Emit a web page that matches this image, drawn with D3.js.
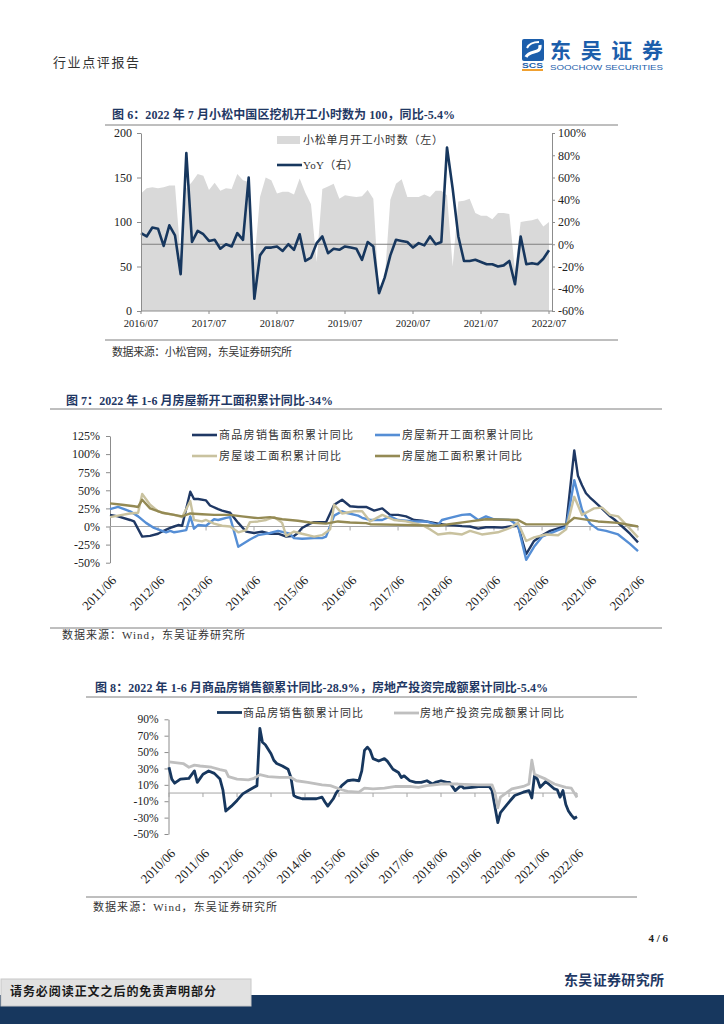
<!DOCTYPE html>
<html>
<head>
<meta charset="utf-8">
<script src="https://cdn.jsdelivr.net/npm/d3@7"></script>
<style>
  body { margin: 0; background: #fff; }
  svg { display: block; }
</style>
</head>
<body>
<svg id="page" width="724" height="1024"></svg>
<script>
// ---- chart 6: Komatsu China excavator hours, 2016/07 - 2022/07 monthly
const months6 = ['2016/07', '2017/07', '2018/07', '2019/07', '2020/07', '2021/07', '2022/07'];
const hours6 = [132, 138, 139, 138, 139, 141, 141, 60, 138, 145, 154, 152, 136, 144, 135, 138, 137, 154,
  147, 145, 55, 128, 150, 147, 132, 134, 134, 131, 149, 133, 120, 55, 137, 140, 143, 126, 130, 129, 128,
  129, 136, 126, 20, 35, 125, 143, 148, 128, 128, 128, 131, 128, 135, 135, 130, 50, 123, 124, 126, 110,
  107, 107, 103, 110, 110, 109, 45, 100, 101, 102, 104, 95, 100];
const yoy6 = [10, 7, 15, 14, -1.5, 17, 8, -27, 82, 2, 12, 9, 3, 4, -4, 0, -2, 10, 4, 60, -49, -10, -3,
  -3, -2, -6, 0, -5, 9, -15, -12, 1, 7, -8, -4, -5, -2, -3, -4, -14, 2, -2, -44, -30, -10, 4, 3, 2, -3,
  1, -1, 7, 0, 2, 87, 50, 7, -15, -15, -14, -16, -18, -18, -20, -19, -15, -36, 7, -18, -17, -18, -13, -5.4];
const yLeftTicks6 = [0, 50, 100, 150, 200];
const yRightTicks6 = [-60, -40, -20, 0, 20, 40, 60, 80, 100];

// ---- chart 7: floor space, cumulative YoY (%)
const years7 = ['2011/06', '2012/06', '2013/06', '2014/06', '2015/06', '2016/06', '2017/06', '2018/06',
  '2019/06', '2020/06', '2021/06', '2022/06'];
const yTicks7 = [-50, -25, 0, 25, 50, 75, 100, 125];
const salesArea = [['2011-06', 16], ['2011-08', 14], ['2011-11', 9], ['2011-12', 7], ['2012-02', -14],
  ['2012-04', -13], ['2012-06', -10], ['2012-07', -7], ['2012-09', -2], ['2012-10', 0], ['2012-11', 2],
  ['2012-12', 1], ['2013-02', 48], ['2013-03', 38], ['2013-04', 38], ['2013-06', 36], ['2013-07', 29],
  ['2013-09', 24], ['2013-10', 22], ['2013-12', 19], ['2014-02', 5], ['2014-04', -7], ['2014-06', -9],
  ['2014-08', -7], ['2014-10', -10], ['2014-12', -10], ['2015-02', -14], ['2015-04', -13], ['2015-05', -9],
  ['2015-06', -2], ['2015-08', 4], ['2015-09', 6], ['2015-11', 6], ['2015-12', 6], ['2016-02', 30],
  ['2016-04', 37], ['2016-06', 28], ['2016-08', 27], ['2016-10', 27], ['2016-12', 22], ['2017-02', 25],
  ['2017-04', 16], ['2017-06', 16], ['2017-08', 14], ['2017-10', 9], ['2017-12', 8], ['2018-02', 6],
  ['2018-04', 4], ['2018-06', 2], ['2018-08', 1.5], ['2018-10', 0.5], ['2018-12', 0], ['2019-02', -3],
  ['2019-04', -1], ['2019-06', -1], ['2019-08', -1.5], ['2019-10', 0], ['2019-12', 1], ['2020-02', -38],
  ['2020-04', -20], ['2020-06', -12], ['2020-08', -6], ['2020-10', -2.5], ['2020-12', 1], ['2021-02', 105],
  ['2021-03', 70], ['2021-04', 57], ['2021-05', 46], ['2021-06', 40], ['2021-07', 35], ['2021-08', 30],
  ['2021-11', 14], ['2021-12', 10], ['2022-02', 0], ['2022-04', -10], ['2022-06', -22]];
const newStart = [['2011-06', 24], ['2011-08', 27], ['2011-11', 21], ['2012-01', 14], ['2012-03', 5],
  ['2012-05', -2], ['2012-06', -4], ['2012-08', -8], ['2012-09', -6], ['2012-10', -8], ['2012-11', -7],
  ['2013-01', -5], ['2013-02', 14], ['2013-03', -3], ['2013-04', 2], ['2013-06', 1], ['2013-08', 10],
  ['2013-09', 9], ['2013-11', 12], ['2013-12', 13], ['2014-02', -28], ['2014-05', -18], ['2014-07', -12],
  ['2014-10', -9], ['2014-12', -6], ['2015-03', -10], ['2015-04', -16], ['2015-06', -17], ['2015-09', -16],
  ['2015-11', -16], ['2015-12', -14], ['2016-02', 15], ['2016-04', 21], ['2016-05', 19], ['2016-08', 15],
  ['2016-09', 12], ['2016-11', 9], ['2017-02', 9], ['2017-04', 14], ['2017-06', 9], ['2017-10', 7],
  ['2018-01', 7], ['2018-04', 2], ['2018-05', 9], ['2018-07', 12], ['2018-10', 16], ['2018-12', 17],
  ['2019-02', 9], ['2019-04', 14], ['2019-06', 10], ['2019-10', 9], ['2019-12', 1], ['2020-02', -46],
  ['2020-04', -28], ['2020-06', -14], ['2020-10', -5], ['2020-12', -1], ['2021-02', 64], ['2021-04', 23],
  ['2021-06', 4], ['2021-08', -4], ['2021-10', -6], ['2022-01', -11], ['2022-04', -24], ['2022-06', -34]];
const completed = [['2011-06', 13], ['2011-08', 15], ['2011-11', 18], ['2012-01', 19], ['2012-02', 45],
  ['2012-04', 30], ['2012-06', 21], ['2012-08', 18], ['2012-10', 16], ['2012-12', 13], ['2013-02', 35],
  ['2013-03', 9], ['2013-05', 7], ['2013-06', 9], ['2013-08', 4], ['2013-10', 1], ['2013-12', 0],
  ['2014-02', -8], ['2014-04', -5], ['2014-05', 6], ['2014-07', 7], ['2014-09', 9], ['2014-11', 13],
  ['2015-01', 5], ['2015-02', -13], ['2015-04', -7], ['2015-06', -10], ['2015-09', -14], ['2015-11', -12],
  ['2016-01', -4], ['2016-02', 30], ['2016-04', 18], ['2016-07', 21], ['2016-09', 21], ['2016-11', 7],
  ['2017-02', 16], ['2017-05', 9], ['2017-08', 7], ['2017-12', 2], ['2018-02', -4], ['2018-04', -11],
  ['2018-07', -9], ['2018-10', -11], ['2018-12', -6], ['2019-03', -11], ['2019-07', -8], ['2019-10', -2],
  ['2019-12', 5], ['2020-02', -20], ['2020-04', -15], ['2020-07', -11], ['2020-10', -12], ['2020-12', -4],
  ['2021-02', 41], ['2021-04', 16], ['2021-07', 25], ['2021-09', 26], ['2021-11', 16], ['2022-01', 14],
  ['2022-03', 3], ['2022-06', -15]];
const underConstruction = [['2011-06', 32], ['2011-09', 30], ['2011-12', 28], ['2012-01', 27],
  ['2012-02', 37], ['2012-04', 25], ['2012-07', 19], ['2012-09', 17], ['2012-12', 14], ['2013-02', 18],
  ['2013-05', 17], ['2013-08', 16], ['2013-12', 16], ['2014-03', 14], ['2014-07', 11.5], ['2014-10', 13],
  ['2015-01', 10], ['2015-05', 8], ['2015-08', 5.5], ['2015-12', 4], ['2016-03', 7], ['2016-06', 5.5],
  ['2016-10', 4.6], ['2016-11', 3.2], ['2017-07', 2.3], ['2018-04', 1], ['2018-12', 7], ['2019-04', 10],
  ['2019-12', 9], ['2020-02', 3], ['2020-09', 3], ['2020-12', 3], ['2021-02', 12], ['2021-08', 7],
  ['2022-01', 5], ['2022-06', 0]];

// ---- chart 8: sales value and investment, cumulative YoY (%)
const years8 = ['2010/06', '2011/06', '2012/06', '2013/06', '2014/06', '2015/06', '2016/06', '2017/06',
  '2018/06', '2019/06', '2020/06', '2021/06', '2022/06'];
const yTicks8 = [-50, -30, -10, 10, 30, 50, 70, 90];
const salesValue = [['2010-06', 31.5], ['2010-07', 17], ['2010-08', 12], ['2010-10', 17], ['2011-01', 18],
  ['2011-03', 27], ['2011-04', 13], ['2011-06', 23], ['2011-08', 27], ['2011-10', 24], ['2011-12', 17],
  ['2012-01', 4], ['2012-02', -22], ['2012-04', -16], ['2012-06', -9], ['2012-08', -1], ['2012-10', 3],
  ['2012-12', 7], ['2013-01', 9], ['2013-02', 79], ['2013-03', 62], ['2013-04', 59], ['2013-06', 48],
  ['2013-07', 40], ['2013-08', 36], ['2013-10', 33], ['2013-12', 29], ['2014-01', 19], ['2014-02', -3],
  ['2014-03', -5], ['2014-05', -7], ['2014-07', -7], ['2014-10', -7], ['2014-12', -5], ['2015-01', -11],
  ['2015-02', -16], ['2015-04', -7], ['2015-05', 0], ['2015-07', 9], ['2015-09', 15], ['2015-11', 16],
  ['2016-01', 15], ['2016-02', 27], ['2016-03', 52], ['2016-04', 56], ['2016-05', 52], ['2016-06', 42],
  ['2016-08', 39], ['2016-10', 42], ['2016-11', 39], ['2017-01', 29], ['2017-03', 25], ['2017-04', 19],
  ['2017-05', 21], ['2017-07', 15], ['2017-09', 13], ['2017-11', 13], ['2018-01', 15], ['2018-03', 11],
  ['2018-04', 13], ['2018-06', 15], ['2018-08', 13], ['2018-09', 13], ['2018-11', 3], ['2019-01', 9],
  ['2019-02', 6], ['2019-05', 7], ['2019-08', 8], ['2019-11', 8], ['2019-12', 3], ['2020-02', -36],
  ['2020-03', -24], ['2020-06', -11], ['2020-08', -3], ['2020-11', 1], ['2021-01', 3], ['2021-02', -6],
  ['2021-03', 21], ['2021-04', 17], ['2021-05', 7], ['2021-07', 14], ['2021-08', 11], ['2021-10', 5],
  ['2021-11', 4], ['2021-12', -5], ['2022-01', 3], ['2022-02', -14], ['2022-03', -22], ['2022-04', -27],
  ['2022-05', -31], ['2022-06', -28.9]];
const investment = [['2010-06', 38], ['2010-11', 36], ['2011-01', 31.5], ['2011-03', 34], ['2011-05', 33],
  ['2011-09', 31.5], ['2011-12', 28.5], ['2012-02', 27], ['2012-03', 20], ['2012-06', 17], ['2012-10', 16],
  ['2012-12', 18], ['2013-02', 22.5], ['2013-05', 20], ['2013-09', 19], ['2014-01', 19], ['2014-03', 15],
  ['2014-07', 13], ['2014-12', 10], ['2015-03', 9], ['2015-07', 4], ['2015-09', 2], ['2016-01', 1],
  ['2016-03', 6], ['2016-06', 5], ['2016-10', 6], ['2017-02', 8], ['2017-07', 8], ['2017-10', 7],
  ['2018-01', 9], ['2018-06', 11], ['2018-12', 11], ['2019-07', 10], ['2019-12', 10], ['2020-01', 1],
  ['2020-02', -18], ['2020-03', -5], ['2020-07', 5], ['2020-11', 8], ['2021-01', 11], ['2021-02', 40],
  ['2021-03', 23], ['2021-07', 17], ['2021-10', 11], ['2022-02', 7], ['2022-04', 6], ['2022-06', -5.4]];

// ---------------------------------------------------------------
const svg = d3.select('#page');
const serif = '"Liberation Serif", "Noto Sans CJK SC", serif';
const parse = d3.timeParse('%Y-%m');
const axisGray = '#8c8c8c';
const navy = '#17375e';

function label(g, x, y, s, o = {}) {
  const t = g.append('text')
    .attr('x', x).attr('y', y)
    .attr('font-family', o.font || serif)
    .attr('font-size', o.size || 11)
    .attr('font-weight', o.weight || 400)
    .attr('fill', o.fill || '#333')
    .attr('text-anchor', o.anchor || 'start')
    .attr('dominant-baseline', 'central')
    .text(s);
  if (o.len) t.attr('textLength', o.len).attr('lengthAdjust', o.adjust || 'spacing');
  return t;
}

function hline(x1, x2, y, color = '#8c8c8c') {
  svg.append('line').attr('x1', x1).attr('x2', x2).attr('y1', y).attr('y2', y)
    .attr('stroke', color).attr('stroke-width', 1);
}

function styleAxis(g) {
  g.select('.domain').attr('stroke', axisGray);
  g.selectAll('.tick line').attr('stroke', axisGray);
  g.selectAll('.tick text').attr('font-family', serif).attr('font-size', 12).attr('fill', '#222');
}

// ---- page header
label(svg, 53, 62, '行业点评报告', { size: 13, len: 86, fill: '#333' });

const logo = svg.append('g');
logo.append('rect').attr('x', 522).attr('y', 39).attr('width', 22).attr('height', 22).attr('rx', 2).attr('fill', '#1c5eab');
logo.append('path').attr('d', 'M526,57 C530,49 541,55 540,45').attr('fill', 'none').attr('stroke', '#fff').attr('stroke-width', 3.2);
logo.append('path').attr('d', 'M527,48 C530,42 536,42 539,42').attr('fill', 'none').attr('stroke', '#fff').attr('stroke-width', 2);
label(logo, 522, 65.5, 'SCS', { size: 7.5, weight: 700, fill: '#1c5eab', len: 21, adjust: 'spacingAndGlyphs', font: '"Liberation Sans", sans-serif' });
logo.append('rect').attr('x', 522).attr('y', 69).attr('width', 21).attr('height', 2).attr('fill', '#f0a030');
label(logo, 550, 49, '东吴证券', { size: 21, weight: 700, fill: '#1c5eab', len: 113, font: '"Noto Sans CJK SC", sans-serif' });
label(logo, 550, 67, 'SOOCHOW SECURITIES', { size: 8, fill: '#1c5eab', len: 113, adjust: 'spacingAndGlyphs', font: '"Liberation Sans Narrow", "Liberation Sans", sans-serif' });

// ---- chart 6
label(svg, 112, 115, '图 6：2022 年 7 月小松中国区挖机开工小时数为 100，同比-5.4%', { size: 12, weight: 700, fill: '#1f3864', len: 343 });
hline(105, 618, 125, '#7f7f7f');

const x6 = d3.scaleLinear().domain([0, hours6.length - 1]).range([141, 549]);
const yL6 = d3.scaleLinear().domain([0, 200]).range([311, 133]);
const yR6 = d3.scaleLinear().domain([-60, 100]).range([311, 133]);
const c6 = svg.append('g');

c6.append('path').datum(hours6)
  .attr('d', d3.area().x((d, i) => x6(i)).y0(yL6(0)).y1(d => yL6(d)))
  .attr('fill', '#d9d9d9');
c6.append('line').attr('x1', 141).attr('x2', 552).attr('y1', yR6(0)).attr('y2', yR6(0))
  .attr('stroke', '#7f7f7f').attr('stroke-width', 1);
c6.append('path').datum(yoy6)
  .attr('d', d3.line().x((d, i) => x6(i)).y(d => yR6(d)))
  .attr('fill', 'none').attr('stroke', navy).attr('stroke-width', 2.6).attr('stroke-linejoin', 'round');

const axL6 = c6.append('g').attr('transform', 'translate(141,0)')
  .call(d3.axisLeft(yL6).tickValues(yLeftTicks6).tickSize(4).tickSizeOuter(0).tickPadding(5));
styleAxis(axL6);
const axR6 = c6.append('g').attr('transform', 'translate(552,0)')
  .call(d3.axisRight(yR6).tickValues(yRightTicks6).tickSize(3).tickSizeOuter(0).tickPadding(3).tickFormat(d => d + '%'));
styleAxis(axR6);
c6.append('line').attr('x1', 141).attr('x2', 552).attr('y1', 311).attr('y2', 311).attr('stroke', axisGray);
months6.forEach((m, k) => {
  const x = x6(k * 12);
  c6.append('line').attr('x1', x).attr('x2', x).attr('y1', 311).attr('y2', 314).attr('stroke', axisGray);
  label(c6, x, 323, m, { size: 10.5, anchor: 'middle', fill: '#222' });
});

c6.append('rect').attr('x', 277).attr('y', 136).attr('width', 23).attr('height', 8).attr('fill', '#d9d9d9');
label(c6, 303, 140, '小松单月开工小时数（左）', { size: 11, len: 140 });
c6.append('line').attr('x1', 277).attr('x2', 302).attr('y1', 165).attr('y2', 165).attr('stroke', navy).attr('stroke-width', 2.6);
label(c6, 303, 165, 'YoY（右）', { size: 11, len: 55 });

hline(105, 618, 340, '#7f7f7f');
label(svg, 112, 352, '数据来源：小松官网，东吴证券研究所', { size: 11, len: 180 });

// ---- chart 7
label(svg, 66, 401, '图 7：2022 年 1-6 月房屋新开工面积累计同比-34%', { size: 12, weight: 700, fill: '#1f3864', len: 267 });
hline(50, 662, 409, '#7f7f7f');

const x7 = d3.scaleTime().domain([parse('2011-06'), parse('2022-06')]).range([110, 638]);
const y7 = d3.scaleLinear().domain([-50, 125]).range([562.7, 436]);
const c7 = svg.append('g');

const axL7 = c7.append('g').attr('transform', 'translate(110,0)')
  .call(d3.axisLeft(y7).tickValues(yTicks7).tickSize(4).tickSizeOuter(0).tickPadding(6).tickFormat(d => d + '%'));
styleAxis(axL7);
c7.append('line').attr('x1', 110).attr('x2', 639).attr('y1', y7(0)).attr('y2', y7(0)).attr('stroke', '#a6a6a6');
years7.forEach(yr => {
  const x = x7(parse(yr.replace('/', '-')));
  c7.append('line').attr('x1', x).attr('x2', x).attr('y1', y7(0)).attr('y2', y7(0) + 4).attr('stroke', '#a6a6a6');
  label(c7, 0, 0, yr, { size: 13, anchor: 'end', fill: '#222' })
    .attr('transform', `translate(${x + 4},578) rotate(-45)`);
});

const line7 = d3.line().x(d => x7(parse(d[0]))).y(d => y7(d[1]));
const series7 = [
  { name: '商品房销售面积累计同比', data: salesArea, color: '#1f3864', lx: 192, ly: 435, len: 134 },
  { name: '房屋新开工面积累计同比', data: newStart, color: '#558ed5', lx: 375, ly: 435, len: 131 },
  { name: '房屋竣工面积累计同比', data: completed, color: '#c9c29f', lx: 192, ly: 456, len: 122 },
  { name: '房屋施工面积累计同比', data: underConstruction, color: '#948a54', lx: 375, ly: 456, len: 120 }
];
series7.forEach(s => {
  c7.append('path').datum(s.data).attr('d', line7)
    .attr('fill', 'none').attr('stroke', s.color).attr('stroke-width', 2.4).attr('stroke-linejoin', 'round');
  c7.append('line').attr('x1', s.lx).attr('x2', s.lx + 25).attr('y1', s.ly).attr('y2', s.ly)
    .attr('stroke', s.color).attr('stroke-width', 2.6);
  label(c7, s.lx + 27, s.ly, s.name, { size: 11, len: s.len });
});

hline(50, 662, 628, '#7f7f7f');
label(svg, 62, 635, '数据来源：Wind，东吴证券研究所', { size: 11, len: 183 });

// ---- chart 8
label(svg, 95, 688, '图 8：2022 年 1-6 月商品房销售额累计同比-28.9%，房地产投资完成额累计同比-5.4%', { size: 12, weight: 700, fill: '#1f3864', len: 453 });
hline(86, 637, 697, '#7f7f7f');

const x8 = d3.scaleTime().domain([parse('2010-06'), parse('2022-06')]).range([169, 577]);
const y8 = d3.scaleLinear().domain([-50, 90]).range([834, 719.3]);
const c8 = svg.append('g');

const axL8 = c8.append('g').attr('transform', 'translate(168.5,0)')
  .call(d3.axisLeft(y8).tickValues(yTicks8).tickSize(4).tickSizeOuter(0).tickPadding(6).tickFormat(d => d + '%'));
styleAxis(axL8);
axL8.selectAll('.tick text').attr('font-size', 11.5);
c8.append('line').attr('x1', 168.5).attr('x2', 577).attr('y1', y8(0)).attr('y2', y8(0)).attr('stroke', '#a6a6a6');
years8.forEach(yr => {
  const x = x8(parse(yr.replace('/', '-')));
  c8.append('line').attr('x1', x).attr('x2', x).attr('y1', y8(0)).attr('y2', y8(0) + 4).attr('stroke', '#a6a6a6');
  label(c8, 0, 0, yr, { size: 13, anchor: 'end', fill: '#222' })
    .attr('transform', `translate(${x + 4},851) rotate(-45)`);
});

const line8 = d3.line().x(d => x8(parse(d[0]))).y(d => y8(d[1]));
const series8 = [
  { name: '商品房销售额累计同比', data: salesValue, color: navy, lx: 217, ly: 712.5, len: 120 },
  { name: '房地产投资完成额累计同比', data: investment, color: '#bfbfbf', lx: 394, ly: 713, len: 144 }
];
series8.forEach(s => {
  c8.append('path').datum(s.data).attr('d', line8)
    .attr('fill', 'none').attr('stroke', s.color).attr('stroke-width', 2.8).attr('stroke-linejoin', 'round');
  c8.append('line').attr('x1', s.lx).attr('x2', s.lx + 25).attr('y1', s.ly).attr('y2', s.ly)
    .attr('stroke', s.color).attr('stroke-width', 2.8);
  label(c8, s.lx + 26, s.ly, s.name, { size: 11, len: s.len });
});

hline(86, 637, 897, '#7f7f7f');
label(svg, 93, 907, '数据来源：Wind，东吴证券研究所', { size: 11, len: 184 });

// ---- page footer
label(svg, 668, 938, '4 / 6', { size: 11, weight: 700, anchor: 'end', fill: '#222' });
label(svg, 564, 980, '东吴证券研究所', { size: 14, weight: 700, fill: '#1f3864', len: 100 });
svg.append('rect').attr('x', 0).attr('y', 995).attr('width', 724).attr('height', 29).attr('fill', '#17375e');
svg.append('rect').attr('x', 1).attr('y', 979).attr('width', 250).attr('height', 27).attr('fill', '#e1e1e1').attr('stroke', '#c8c8c8');
label(svg, 10, 992, '请务必阅读正文之后的免责声明部分', { size: 12, weight: 700, fill: '#1a1a1a', len: 206 });
</script>
</body>
</html>
